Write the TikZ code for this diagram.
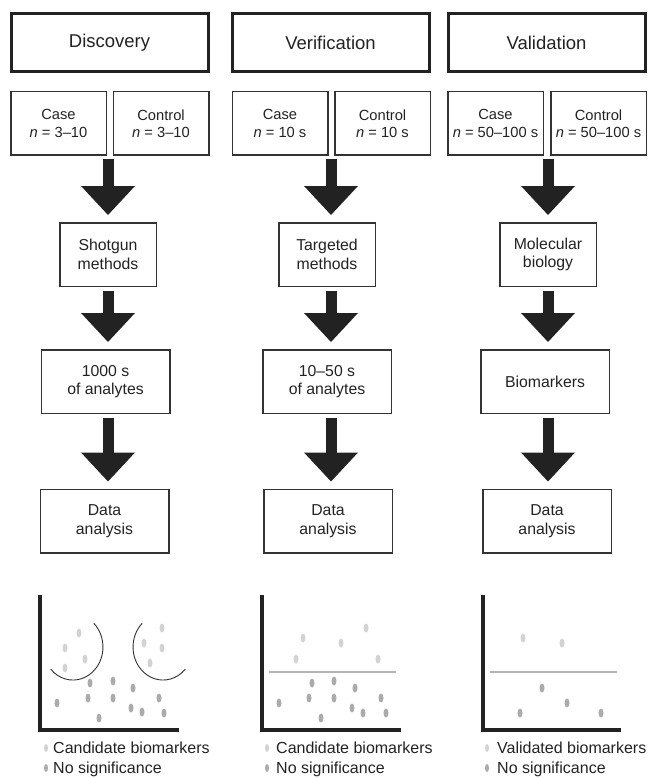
\documentclass[tikz,border=0pt]{standalone}
\usepackage{fontspec}
\setmainfont{Liberation Sans}
\usepackage{tikz}
\usetikzlibrary{arrows.meta}
\usetikzlibrary{positioning}
\definecolor{inkdark}{HTML}{222222}
\definecolor{boxline}{HTML}{333333}
\definecolor{paledot}{HTML}{D3D3D3}
\definecolor{greydot}{HTML}{ABABAB}
\definecolor{cutline}{HTML}{B4B4B4}
\tikzset{
	stagebox/.style={draw=inkdark, line width=3pt, minimum width=197pt, minimum height=58pt,
		inner sep=0pt, text=inkdark, font=\fontsize{18.5}{22}\selectfont},
	groupbox/.style={draw=boxline, line width=1.5pt, minimum width=95.5pt, minimum height=63.5pt,
		inner sep=0pt, align=center, text=inkdark, font=\fontsize{14.7}{17.3}\selectfont},
	methodbox/.style={draw=boxline, line width=1.5pt, minimum width=96.5pt, minimum height=63.5pt,
		inner sep=0pt, align=center, text=inkdark, font=\fontsize{15.8}{18.7}\selectfont},
	analytebox/.style={methodbox, minimum width=128.5pt},
	bigarrow/.style={draw=inkdark, line width=11pt, shorten <=3.5pt, shorten >=7pt,
		-{Triangle[width=54pt,length=29pt,line width=0pt]}},
	plotaxis/.style={draw=inkdark, line width=4pt, line join=miter},
	cutoff/.style={draw=cutline, line width=2pt},
	cutarc/.style={draw=boxline, line width=0.9pt},
	paledot/.style={fill=paledot},
	greydot/.style={fill=greydot},
	legendtext/.style={anchor=base west, inner sep=0pt, text=inkdark, font=\fontsize{16}{19}\selectfont},
}
\begin{document}
\begin{tikzpicture}[x=1pt, y=-1pt]
		\useasboundingbox (0,0) rectangle (648,778);
		% discovery
		\begin{scope}[shift={(108,0)}]
			\coordinate (daxis) at (0,0);
			\node[stagebox] (disc) at (1.5,42.5) {Discovery};
			\node[groupbox] (dcase) at (-49.5,123.5) {Case\\\textit{n} = 3--10};
			\node[groupbox] (dcontrol) at (53,123.5) {Control\\\textit{n} = 3--10};
			\node[methodbox] (shotgun) at (0,254.5) {Shotgun\\methods};
			\node[analytebox] (dthousands) at (-2.5,381.5) {1000 s\\of analytes};
			\node[analytebox] (ddata) at (-3.5,521) {Data\\analysis};
			\draw[bigarrow] (dcase.south -| daxis) -- (shotgun.north -| daxis);
			\draw[bigarrow] (shotgun.south -| daxis) -- (dthousands.north -| daxis);
			\draw[bigarrow] (dthousands.south -| daxis) -- (ddata.north -| daxis);
			\draw[plotaxis] (-68,595) -- (-68,730) -- (71,730);
			\draw[cutarc] (-14.2,623.3) arc[start angle=-46, end angle=138, x radius=30, y radius=33];
			\draw[cutarc] (34.2,623.3) arc[start angle=226, end angle=42, x radius=30, y radius=33];
			\foreach \x/\y in {-29/633,-43/648,-23/659,-43/668,54/628,36/643,54/648,42/663}
				\fill[paledot] (\x,\y) ellipse [x radius=2.5, y radius=4.5];
			\foreach \x/\y in {-51/703,-18/683,-20/698,5/681,5/698,-9/718,25/688,23/708,34/712,51/698,56/713}
				\fill[greydot] (\x,\y) ellipse [x radius=2.5, y radius=4.5];
			\fill[paledot] (-62,748) ellipse [x radius=2, y radius=4];
			\fill[greydot] (-62,768) ellipse [x radius=2, y radius=4];
			\node[legendtext] (dlegpale) at (-55,753) {Candidate biomarkers};
			\node[legendtext] (dleggrey) at (-55,773) {No significance};
		\end{scope}
		% verification
		\begin{scope}[shift={(331,0)}]
			\coordinate (vaxis) at (0,0);
			\node[stagebox] (verif) at (-0.5,42.5) {Verification};
			\node[groupbox] (vcase) at (-51,123.5) {Case\\\textit{n} = 10 s};
			\node[groupbox] (vcontrol) at (51.5,123.5) {Control\\\textit{n} = 10 s};
			\node[methodbox] (targeted) at (-4,254.5) {Targeted\\methods};
			\node[analytebox] (vtens) at (-4,381.5) {10--50 s\\of analytes};
			\node[analytebox] (vdata) at (-3,521) {Data\\analysis};
			\draw[bigarrow] (vcase.south -| vaxis) -- (targeted.north -| vaxis);
			\draw[bigarrow] (targeted.south -| vaxis) -- (vtens.north -| vaxis);
			\draw[bigarrow] (vtens.south -| vaxis) -- (vdata.north -| vaxis);
			\draw[plotaxis] (-69,595) -- (-69,730) -- (70,730);
			\draw[cutoff] (-62,672) -- (65,672);
			\foreach \x/\y in {-28/638,-35/659,10/643,35/628,47/659}
				\fill[paledot] (\x,\y) ellipse [x radius=2.5, y radius=4.5];
			\foreach \x/\y in {-52/703,-19/683,-22/698,3/681,3/698,-10/718,24/688,21/708,32/713,50/698,55/713}
				\fill[greydot] (\x,\y) ellipse [x radius=2.5, y radius=4.5];
			\fill[paledot] (-64,748) ellipse [x radius=2, y radius=4];
			\fill[greydot] (-64,768) ellipse [x radius=2, y radius=4];
			\node[legendtext] (vlegpale) at (-55,753) {Candidate biomarkers};
			\node[legendtext] (vleggrey) at (-55,773) {No significance};
		\end{scope}
		% validation
		\begin{scope}[shift={(548,0)}]
			\coordinate (laxis) at (0,0);
			\node[stagebox] (valid) at (-1.5,42.5) {Validation};
			\node[groupbox] (lcase) at (-52.5,123.5) {Case\\\textit{n} = 50--100 s};
			\node[groupbox] (lcontrol) at (50.5,123.5) {Control\\\textit{n} = 50--100 s};
			\node[methodbox] (molecular) at (0,254.5) {Molecular\\biology};
			\node[analytebox] (biomarkers) at (-3,381.5) {Biomarkers};
			\node[analytebox] (ldata) at (-1,521) {Data\\analysis};
			\draw[bigarrow] (lcase.south -| laxis) -- (molecular.north -| laxis);
			\draw[bigarrow] (molecular.south -| laxis) -- (biomarkers.north -| laxis);
			\draw[bigarrow] (biomarkers.south -| laxis) -- (ldata.north -| laxis);
			\draw[plotaxis] (-65,595) -- (-65,730) -- (73,730);
			\draw[cutoff] (-58,672) -- (69,672);
			\foreach \x/\y in {-25/638,14/643}
				\fill[paledot] (\x,\y) ellipse [x radius=2.5, y radius=4.5];
			\foreach \x/\y in {-6/688,19/703,-28/713,53/713}
				\fill[greydot] (\x,\y) ellipse [x radius=2.5, y radius=4.5];
			\fill[paledot] (-61,748) ellipse [x radius=2, y radius=4];
			\fill[greydot] (-61,768) ellipse [x radius=2, y radius=4];
			\node[legendtext] (llegpale) at (-51,753) {Validated biomarkers};
			\node[legendtext] (lleggrey) at (-51,773) {No significance};
		\end{scope}
\end{tikzpicture}
\end{document}
